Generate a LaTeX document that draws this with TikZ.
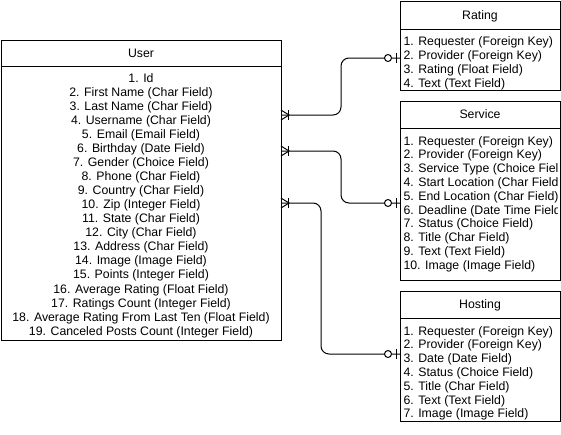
\documentclass[tikz,border=0pt]{standalone}
\usepackage{fontspec}
\setmainfont{Liberation Sans}
\begin{document}
\begin{tikzpicture}[x=1pt,y=-1pt, line width=1pt,
  box/.style={draw, rectangle, inner sep=0pt, outer sep=0pt, anchor=north west},
  ttl/.style={anchor=base, inner sep=0pt, font=\fontsize{12.3}{14}\selectfont},
  rowsl/.style={anchor=north west, inner sep=0pt, align=left, font=\fontsize{12.3}{13.8}\selectfont},
  rowsc/.style={anchor=north, inner sep=0pt, align=center, font=\fontsize{12.3}{14.06}\selectfont},
  conn/.style={rounded corners=8pt},
  manyone/.pic={\draw (0,-5) -- (8,0) -- (0,5); \draw (7,-5) -- (7,5);},
  zeroone/.pic={\draw (-4,-5) -- (-4,5); \draw[fill=white] (-12,0) circle (3.5pt);}
]
\useasboundingbox (0,0) rectangle (561,434);

% User
\node[box, minimum width=280pt, minimum height=26pt] (userhead) at (1,40) {};
\node[box, minimum width=280pt, minimum height=274pt] (userbody) at (1,66) {};
\node[ttl] (usertitle) at (141,57.5) {User};
\node[rowsc] (userrows) at (141,72.7) {1. Id\\2. First Name (Char Field)\\3. Last Name (Char Field)\\4. Username (Char Field)\\5. Email (Email Field)\\6. Birthday (Date Field)\\7. Gender (Choice Field)\\8. Phone (Char Field)\\9. Country (Char Field)\\10. Zip (Integer Field)\\11. State (Char Field)\\12. City (Char Field)\\13. Address (Char Field)\\14. Image (Image Field)\\15. Points (Integer Field)\\16. Average Rating (Float Field)\\17. Ratings Count (Integer Field)\\18. Average Rating From Last Ten (Float Field)\\19. Canceled Posts Count (Integer Field)};

% Rating
\node[box, minimum width=160pt, minimum height=28pt] (ratinghead) at (400,1) {};
\node[box, minimum width=160pt, minimum height=61pt] (ratingbody) at (400,29) {};
\node[ttl] (ratingtitle) at (480,19.5) {Rating};
\node[rowsl] (ratingrows) at (403,36.3) {1. Requester (Foreign Key)\\2. Provider (Foreign Key)\\3. Rating (Float Field)\\4. Text (Text Field)};

% Service
\node[box, minimum width=160pt, minimum height=27pt] (servicehead) at (400,101) {};
\node[box, minimum width=160pt, minimum height=152pt] (servicebody) at (400,128) {};
\node[ttl] (servicetitle) at (480,118.5) {Service};
\begin{scope}
\clip (400,128) rectangle (557,280);
\node[rowsl] (servicerows) at (403,135.7) {1. Requester (Foreign Key)\\2. Provider (Foreign Key)\\3. Service Type (Choice Field)\\4. Start Location (Char Field)\\5. End Location (Char Field)\\6. Deadline (Date Time Field)\\7. Status (Choice Field)\\8. Title (Char Field)\\9. Text (Text Field)\\10. Image (Image Field)};
\end{scope}

% Hosting
\node[box, minimum width=160pt, minimum height=27pt] (hostinghead) at (400,291) {};
\node[box, minimum width=160pt, minimum height=103pt] (hostingbody) at (400,318) {};
\node[ttl] (hostingtitle) at (480,308.3) {Hosting};
\node[rowsl] (hostingrows) at (403,325.7) {1. Requester (Foreign Key)\\2. Provider (Foreign Key)\\3. Date (Date Field)\\4. Status (Choice Field)\\5. Title (Char Field)\\6. Text (Text Field)\\7. Image (Image Field)};

% attach points
\coordinate (u1) at (userbody.east |- 0,115);
\coordinate (u2) at (userbody.east |- 0,151);
\coordinate (u3) at (userbody.east |- 0,203);
\coordinate (r1) at (ratingbody.west |- 0,58);
\coordinate (s1) at (servicebody.west |- 0,203);
\coordinate (h1) at (hostingbody.west |- 0,354);

\draw[conn] (u1) -- (341,115) -- (341,58) -- (r1);
\draw[conn] (u2) -- (341,151) -- (341,203) -- (s1);
\draw[conn] (u3) -- (321,203) -- (321,354) -- (h1);

\pic at (u1) {manyone};
\pic at (u2) {manyone};
\pic at (u3) {manyone};
\pic at (r1) {zeroone};
\pic at (s1) {zeroone};
\pic at (h1) {zeroone};
\end{tikzpicture}
\end{document}
